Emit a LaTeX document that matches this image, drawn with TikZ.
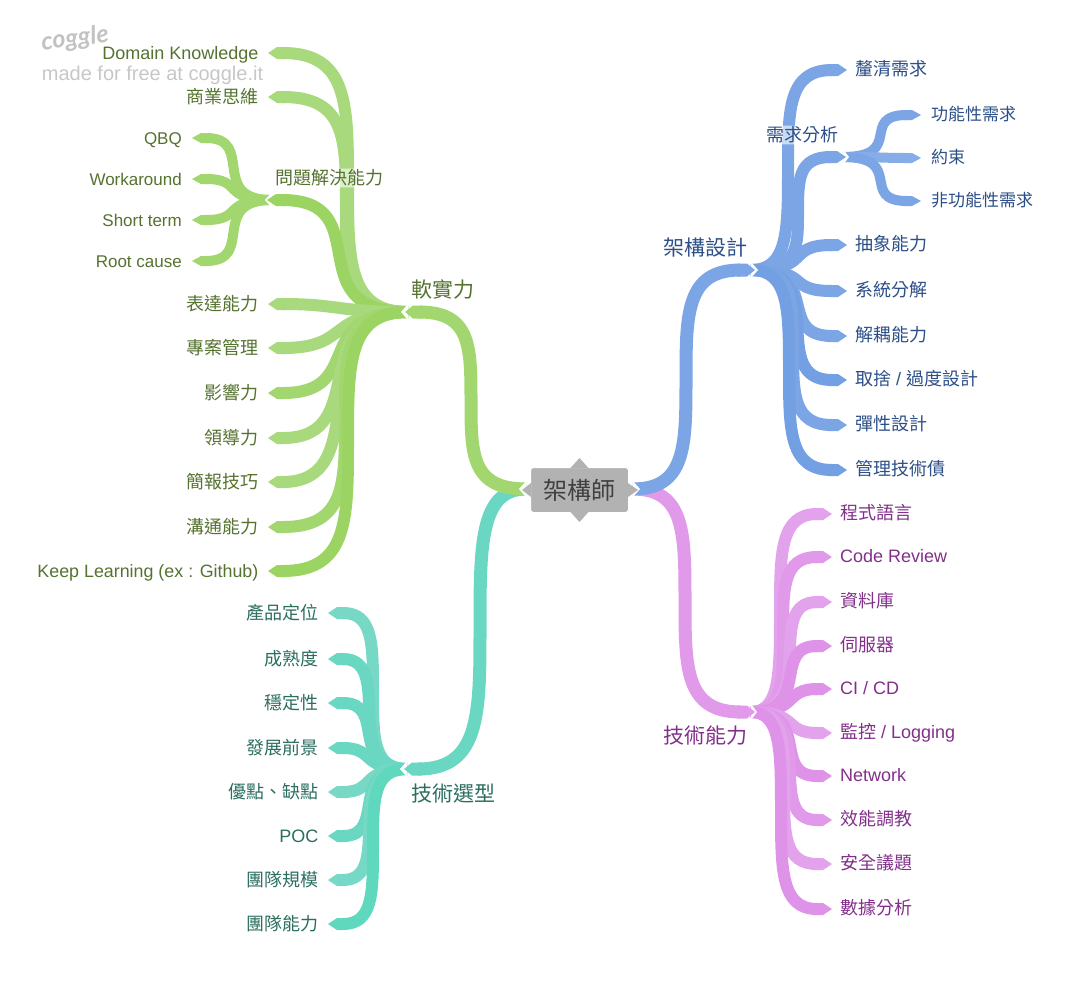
\documentclass[tikz,border=0pt]{standalone}
\usepackage{fontspec}
\setmainfont{Liberation Sans}
\newfontfamily\zhfont{Noto Sans CJK TC}
\usetikzlibrary{calc,arrows.meta}
\def\zh#1{{\zhfont #1}}
% tall branch: (from)(to)(column of the upright part)
\def\limb[#1](#2)(#3)(#4){\coordinate (m) at ($(#2)!.5!(#3)$);\coordinate (m) at (#4,0 |- m);
	\draw[#1] (#2) .. controls (#4,0 |- #2) and ($(m)!.6!(#4,0 |- #2)$) .. (m) .. controls ($(m)!.6!(#4,0 |- #3)$) and (#4,0 |- #3) .. (#3);}
% shallow branch: (from)(to)(pull)
\def\sprig[#1](#2)(#3)(#4){\draw[#1] (#2) .. controls ($(#2)!#4!(#3 |- #2)$) and ($(#3)!#4!(#2 |- #3)$) .. (#3);}
\def\notch(#1)(#2){\fill[white] ($(#1)+(0,-8)$) -- ($(#1)+(#2,0)$) -- ($(#1)+(0,8)$) -- cycle;}
\definecolor{softlight}{HTML}{A9D97D}
\definecolor{softmid}{HTML}{A2D76F}
\definecolor{softdeep}{HTML}{9BD462}
\definecolor{softtext}{HTML}{55722F}
\definecolor{designlight}{HTML}{86ADE8}
\definecolor{designmid}{HTML}{7BA5E5}
\definecolor{designdeep}{HTML}{72A0E3}
\definecolor{designtext}{HTML}{2C4F87}
\definecolor{techlight}{HTML}{E3A3EC}
\definecolor{techmid}{HTML}{E09AE9}
\definecolor{techdeep}{HTML}{DE93E8}
\definecolor{techtext}{HTML}{822F8A}
\definecolor{picklight}{HTML}{78D8C6}
\definecolor{pickmid}{HTML}{6AD7C2}
\definecolor{pickdeep}{HTML}{5FD8BD}
\definecolor{picktext}{HTML}{2B6E60}
\tikzset{
	ribbon/.style={line width=#1, -{Triangle Cap[length=9pt]}},
	ribbon/.default=12pt,
	hubline/.style={line width=13pt, -{Triangle Cap[length=8pt]}},
	leafbase/.style={inner ysep=0pt, text height=14pt, text depth=4pt, font=\fontsize{18}{20}\selectfont},
	leafl/.style={leafbase, anchor=east, inner xsep=9.4pt, text depth=2pt},
	leafr/.style={leafbase, anchor=west, inner xsep=8pt},
	subleaf/.style={inner xsep=10pt, font=\fontsize{17}{20}\selectfont},
	bigtag/.style={inner sep=0pt, font=\fontsize{21}{24}\selectfont},
	midtag/.style={inner sep=1pt, rounded corners=4pt, fill=white, fill opacity=.6, text opacity=1, font=\fontsize{18}{20}\selectfont}
}
\begin{document}
\begin{tikzpicture}[x=1pt,y=-1pt]
	%%%%% START %%%%%
	\useasboundingbox (0,0) rectangle (1080,983);
	
	\node[rotate=7, inner sep=0pt, text=black!24, font=\fontsize{25}{25}\selectfont\fontspec{Lato}\bfseries\itshape] (logo) at (75,39) {coggle};
	\node[inner sep=0pt, text=black!22, font=\fontsize{20}{22}\selectfont] (credit) at (152.5,75) {made for free at coggle.it};
	
	% soft skills leaves
	\coordinate (softhub) at (408,312);
	\coordinate (softtip) at (405,312);
	\coordinate (solvehub) at (272,200);
	\coordinate (solvetip) at (267,200);
	\node[leafl, text=softtext] (domain) at (268,53) {Domain Knowledge};
	\node[leafl, text=softtext] (biz) at (268,97) {\zh{商業思維}};
	\node[leafl, subleaf, text=softtext] (qbq) at (192,138) {QBQ};
	\node[leafl, subleaf, text=softtext] (workaround) at (192,179) {Workaround};
	\node[leafl, subleaf, text=softtext] (shortterm) at (192,220) {Short term};
	\node[leafl, subleaf, text=softtext] (rootcause) at (192,261) {Root cause};
	\node[leafl, text=softtext] (express) at (268,304) {\zh{表達能力}};
	\node[leafl, text=softtext] (project) at (268,348) {\zh{專案管理}};
	\node[leafl, text=softtext] (influence) at (268,393) {\zh{影響力}};
	\node[leafl, text=softtext] (lead) at (268,438) {\zh{領導力}};
	\node[leafl, text=softtext] (slides) at (268,482) {\zh{簡報技巧}};
	\node[leafl, text=softtext] (talk) at (268,527) {\zh{溝通能力}};
	\node[leafl, text=softtext, font=\fontsize{17.85}{20}\selectfont] (learn) at (268,571) {Keep Learning (ex : Github)};
	
	\sprig[ribbon=10pt, softmid](solvehub)(qbq.east)(.8);
	\sprig[ribbon=10pt, softmid](solvehub)(workaround.east)(.65);
	\sprig[ribbon=10pt, softmid](solvehub)(shortterm.east)(.65);
	\sprig[ribbon=10pt, softmid](solvehub)(rootcause.east)(.8);
	\notch(solvehub)(-7);
	
	\limb[ribbon, softlight](softhub)(domain.east)(348);
	\limb[ribbon, softlight](softhub)(biz.east)(346);
	\sprig[ribbon, softdeep](softhub)(solvetip)(.8);
	\sprig[ribbon, softlight](softhub)(express.east)(.5);
	\sprig[ribbon, softlight](softhub)(project.east)(.6);
	\sprig[ribbon, softmid](softhub)(influence.east)(.7);
	\sprig[ribbon, softlight](softhub)(lead.east)(.75);
	\sprig[ribbon, softlight](softhub)(slides.east)(.8);
	\limb[ribbon, softmid](softhub)(talk.east)(345);
	\limb[ribbon, softdeep](softhub)(learn.east)(348);
	\notch(softhub)(-7);
	
	% technology selection leaves
	\coordinate (pickhub) at (407,769);
	\coordinate (picktip) at (404,769);
	\node[leafl, text=picktext] (position) at (328,613) {\zh{產品定位}};
	\node[leafl, text=picktext] (mature) at (328,659) {\zh{成熟度}};
	\node[leafl, text=picktext] (stable) at (328,703) {\zh{穩定性}};
	\node[leafl, text=picktext] (future) at (328,748) {\zh{發展前景}};
	\node[leafl, text=picktext] (procon) at (328,792) {\zh{優點、缺點}};
	\node[leafl, text=picktext] (poc) at (328,836) {POC};
	\node[leafl, text=picktext] (teamsize) at (328,880) {\zh{團隊規模}};
	\node[leafl, text=picktext] (teamskill) at (328,924) {\zh{團隊能力}};
	
	\limb[ribbon, picklight](pickhub)(position.east)(373);
	\sprig[ribbon, pickmid](pickhub)(mature.east)(.85);
	\sprig[ribbon, pickmid](pickhub)(stable.east)(.75);
	\sprig[ribbon, pickmid](pickhub)(future.east)(.6);
	\sprig[ribbon, picklight](pickhub)(procon.east)(.6);
	\sprig[ribbon, pickmid](pickhub)(poc.east)(.75);
	\sprig[ribbon, picklight](pickhub)(teamsize.east)(.85);
	\limb[ribbon, pickdeep](pickhub)(teamskill.east)(373);
	\notch(pickhub)(-7);
	
	% design leaves
	\coordinate (designhub) at (751,270);
	\coordinate (designtip) at (755,270);
	\coordinate (needhub) at (843,157);
	\coordinate (needtip) at (846,157);
	\node[leafr, text=designtext] (clarify) at (847,70) {\zh{釐清需求}};
	\node[leafr, subleaf, text=designtext] (func) at (921,115) {\zh{功能性需求}};
	\node[leafr, subleaf, text=designtext] (limit) at (921,158) {\zh{約束}};
	\node[leafr, subleaf, text=designtext] (nonfunc) at (921,201) {\zh{非功能性需求}};
	\node[leafr, text=designtext] (abstract) at (847,245) {\zh{抽象能力}};
	\node[leafr, text=designtext] (split) at (847,291) {\zh{系統分解}};
	\node[leafr, text=designtext] (decouple) at (847,336) {\zh{解耦能力}};
	\node[leafr, text=designtext] (tradeoff) at (847,380) {\zh{取捨} / \zh{過度設計}};
	\node[leafr, text=designtext] (elastic) at (847,425) {\zh{彈性設計}};
	\node[leafr, text=designtext] (debt) at (847,470) {\zh{管理技術債}};
	
	\sprig[ribbon=10pt, designmid](needhub)(func.west)(.8);
	\sprig[ribbon=10pt, designlight](needhub)(limit.west)(.5);
	\sprig[ribbon=10pt, designmid](needhub)(nonfunc.west)(.8);
	\notch(needhub)(6);
	
	\limb[ribbon, designmid](designhub)(clarify.west)(788);
	\limb[ribbon, designmid](designhub)(needtip)(798);
	\sprig[ribbon, designmid](designhub)(abstract.west)(.65);
	\sprig[ribbon, designmid](designhub)(split.west)(.65);
	\sprig[ribbon, designmid](designhub)(decouple.west)(.75);
	\sprig[ribbon, designdeep](designhub)(tradeoff.west)(.85);
	\limb[ribbon, designmid](designhub)(elastic.west)(793);
	\limb[ribbon, designdeep](designhub)(debt.west)(789);
	\notch(designhub)(7);
	
	% technical skill leaves
	\coordinate (techhub) at (751,712);
	\coordinate (techtip) at (755,712);
	\node[leafr, text=techtext] (lang) at (832,514) {\zh{程式語言}};
	\node[leafr, text=techtext] (review) at (832,557) {Code Review};
	\node[leafr, text=techtext] (database) at (832,602) {\zh{資料庫}};
	\node[leafr, text=techtext] (server) at (832,646) {\zh{伺服器}};
	\node[leafr, text=techtext] (cicd) at (832,689) {CI / CD};
	\node[leafr, text=techtext] (monitor) at (832,733) {\zh{監控} / Logging};
	\node[leafr, text=techtext] (network) at (832,776) {Network};
	\node[leafr, text=techtext] (tuning) at (832,820) {\zh{效能調教}};
	\node[leafr, text=techtext] (security) at (832,864) {\zh{安全議題}};
	\node[leafr, text=techtext] (data) at (832,909) {\zh{數據分析}};
	
	\limb[ribbon, techlight](techhub)(lang.west)(780);
	\limb[ribbon, techmid](techhub)(review.west)(783);
	\sprig[ribbon, techlight](techhub)(database.west)(.85);
	\sprig[ribbon, techdeep](techhub)(server.west)(.75);
	\sprig[ribbon, techdeep](techhub)(cicd.west)(.6);
	\sprig[ribbon, techlight](techhub)(monitor.west)(.6);
	\sprig[ribbon, techdeep](techhub)(network.west)(.75);
	\sprig[ribbon, techmid](techhub)(tuning.west)(.85);
	\limb[ribbon, techlight](techhub)(security.west)(784);
	\limb[ribbon, techdeep](techhub)(data.west)(781);
	\notch(techhub)(6);
	
	% main branches
	\node[rounded corners=3pt, fill=black!30, draw=white, line width=1pt, minimum width=98pt, minimum height=45pt, inner sep=0pt, text=black!75, font=\fontsize{24}{26}\selectfont] (architect) at (579.5,490) {\zh{架構師}};
	\coordinate (rootleft) at (526,489);
	\coordinate (rootright) at (633,489);
	
	\limb[hubline, pickmid](rootleft)(picktip)(480);
	\limb[hubline, softmid](rootleft)(softtip)(471);
	\limb[hubline, techmid](rootright)(techtip)(685);
	\limb[hubline, designmid](rootright)(designtip)(686);
	\notch(rootleft)(-7);
	\notch(rootright)(7);
	
	\fill[black!30] ($(architect.north)+(-9,1)$) -- (579.5,458) -- ($(architect.north)+(9,1)$) -- cycle;
	\fill[black!30] ($(architect.south)+(-9,-1)$) -- (579.5,522) -- ($(architect.south)+(9,-1)$) -- cycle;
	\fill[black!30] ($(architect.west)+(1,-7)$) -- (522,490) -- ($(architect.west)+(1,7)$) -- cycle;
	\fill[black!30] ($(architect.east)+(-1,-7)$) -- (638,490) -- ($(architect.east)+(-1,7)$) -- cycle;
	
	% branch labels
	\node[bigtag, text=softtext] (soft) at (442.5,289) {\zh{軟實力}};
	\node[bigtag, text=picktext] (pick) at (453,794) {\zh{技術選型}};
	\node[bigtag, text=designtext] (design) at (705,247) {\zh{架構設計}};
	\node[bigtag, text=techtext] (tech) at (705,736) {\zh{技術能力}};
	\node[midtag, text=softtext] (solve) at (329,178) {\zh{問題解決能力}};
	\node[midtag, text=designtext] (need) at (802,135) {\zh{需求分析}};
	
	%%%%% END %%%%%
\end{tikzpicture}
\end{document}
